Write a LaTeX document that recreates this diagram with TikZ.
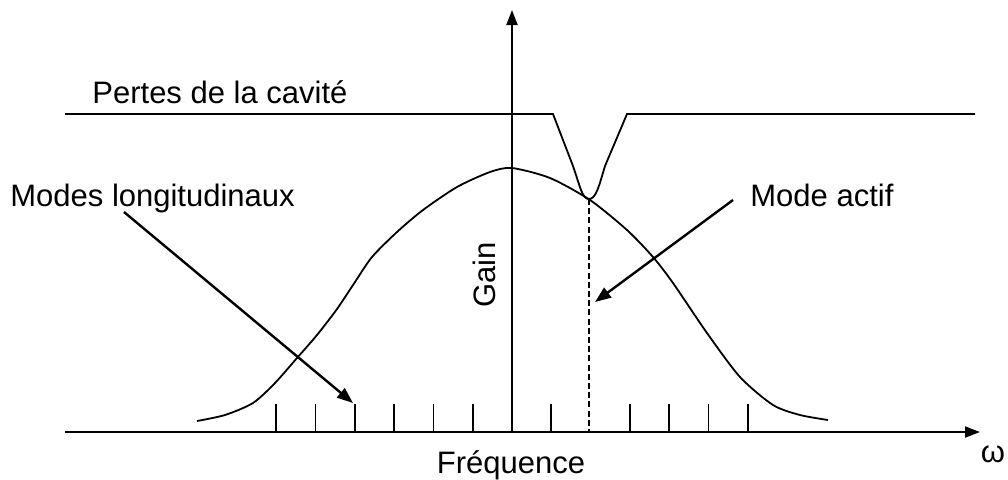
\documentclass[tikz,border=0pt]{standalone}
\usepackage{fontspec}
\setmainfont{Liberation Sans}
\usepackage{tikz}
\usetikzlibrary{arrows.meta,positioning,calc}

\tikzset{
  lbl/.style={font=\fontsize{15.5}{18}\selectfont, inner sep=0pt},
  axe/.style={line width=1pt, -{Triangle[length=7.5pt,width=5.5pt]}},
  fleche/.style={line width=1.2pt, -{Triangle[length=8pt,width=6pt]}},
  courbe/.style={line width=0.9pt},
  mode/.style={line width=0.85pt},
}

\begin{document}
\begin{tikzpicture}[x=0.5pt, y=-0.5pt]
    \useasboundingbox (0,0) rectangle (1008,479);

    % axes
    \coordinate (xstart) at (65,432);
    \coordinate (xend) at (980,432);
    \coordinate (orig) at (512,432);
    \coordinate (yend) at (512,10);
    \draw[axe] (xstart) -- (xend);
    \draw[axe] (orig) -- (yend);

    % labels
    \node[lbl, anchor=base] (freq) at (511,473) {Fréquence};
    \node[lbl, anchor=base, rotate=90] (gain) at (495,275) {Gain};
    \node[lbl, anchor=base] (omega) at (993,462) {ω};
    \node[lbl, anchor=base west] (pertes) at (92,103) {Pertes de la cavité};
    \node[lbl, anchor=base west] (modes) at (10,206) {Modes longitudinaux};
    \node[lbl, anchor=base west] (actif) at (750,206) {Mode actif};

    % modes longitudinaux
    \foreach \k in {-6,...,-1,1,3,4,5,6}
        \draw[mode] ($(orig)+(\k*39.3,0)$) -- ++(0,-28);

    % courbe de gain
    \draw[courbe] plot[smooth, tension=0.45] coordinates {(197,421) (225,415) (253,403)
        (275,383) (297,358) (317,335) (337,309) (355,282) (372,257) (397,232)
        (423,210) (457,187) (490,172) (512,168) (550,178) (590,200) (627,230)
        (653,257) (673,283) (707,333) (740,377) (773,405) (800,415) (828,420)};

    % pertes de la cavite
    \coordinate (creux) at (589,199);
    \draw[courbe] (65,114) -- (553,114) -- (573,166)
        .. controls (580,186) and (582,199) .. (creux)
        .. controls (596,199) and (599,186) .. (605,166) -- (627,114) -- (975,114);

    % mode actif
    \coordinate (actifbas) at (589,432);
    \draw[mode, dash pattern=on 3pt off 1.6pt] (creux) -- (actifbas);

    % fleches
    \coordinate (mlstart) at (124,212);
    \coordinate (mltip) at (353,403);
    \coordinate (mastart) at (733,200);
    \coordinate (matip) at (595,302);
    \draw[fleche] (mlstart) -- (mltip);
    \draw[fleche] (mastart) -- (matip);
\end{tikzpicture}
\end{document}
